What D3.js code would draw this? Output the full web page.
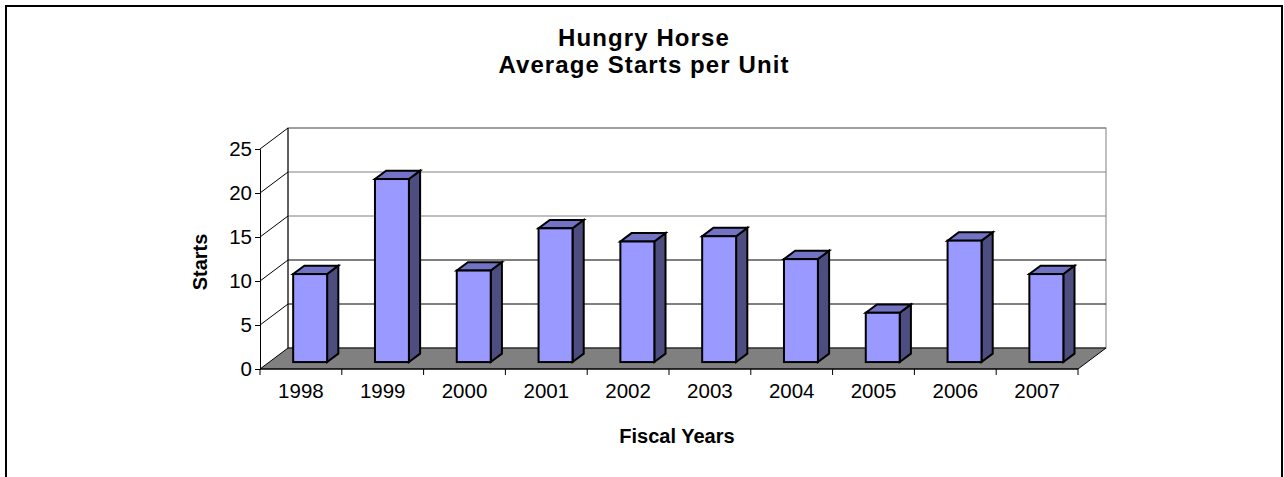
<!DOCTYPE html>
<html>
<head>
<meta charset="utf-8">
<script src="https://cdn.jsdelivr.net/npm/d3@7"></script>
<style>
  html, body { margin: 0; padding: 0; background: #fff; }
  svg { display: block; }
  text { font-family: "Liberation Sans", Arial, sans-serif; fill: #000; }
</style>
</head>
<body>
<svg id="chart" width="1284" height="477"></svg>
<script>
// ---- data ----
const categories = ["1998", "1999", "2000", "2001", "2002", "2003", "2004", "2005", "2006", "2007"];
const starts = [10.0, 20.8, 10.4, 15.2, 13.7, 14.3, 11.7, 5.6, 13.8, 10.0];
const yTicks = [0, 5, 10, 15, 20, 25];
const titleLines = ["Hungry Horse", "Average Starts per Unit"];
const yTitle = "Starts";
const xTitle = "Fiscal Years";

// ---- layout ----
const svg = d3.select("#chart");
const frontLeft = 260, frontRight = 1078;
const frontBottom = 369, frontTop = 149;
const DX = 28, DY = -21;            // depth offset of back wall
const barF = 0.33, barB = 0.73;     // bar front / back depth fractions

const x = d3.scaleBand().domain(categories).range([frontLeft, frontRight]).paddingInner(0).paddingOuter(0);
const y = d3.scaleLinear().domain([0, 25]).range([frontBottom, frontTop]);

// outer frame
svg.append("rect").attr("x", 6).attr("y", 6).attr("width", 1276).attr("height", 490)
  .attr("fill", "none").attr("stroke", "#000").attr("stroke-width", 2);

// back wall
svg.append("rect")
  .attr("x", frontLeft + DX).attr("y", y(25) + DY)
  .attr("width", frontRight - frontLeft).attr("height", y(0) - y(25))
  .attr("fill", "#fff").attr("stroke", "#808080").attr("stroke-width", 1);

// gridlines on back wall + left wall diagonals
const g = svg.append("g");
yTicks.filter(v => v > 0).forEach(v => {
  g.append("line")
    .attr("x1", frontLeft + DX).attr("x2", frontRight + DX)
    .attr("y1", y(v) + DY).attr("y2", y(v) + DY)
    .attr("stroke", v >= 15 ? "#808080" : "#000").attr("stroke-width", 1);
  g.append("line")
    .attr("x1", frontLeft).attr("x2", frontLeft + DX)
    .attr("y1", y(v)).attr("y2", y(v) + DY)
    .attr("stroke", "#000").attr("stroke-width", 1);
});
// left wall back edge
g.append("line").attr("x1", frontLeft + DX).attr("x2", frontLeft + DX)
  .attr("y1", y(25) + DY).attr("y2", y(0) + DY).attr("stroke", "#000");

// floor
svg.append("polygon")
  .attr("points", [
    [frontLeft, y(0)], [frontRight, y(0)],
    [frontRight + DX, y(0) + DY], [frontLeft + DX, y(0) + DY]
  ].map(p => p.join(",")).join(" "))
  .attr("fill", "#808080").attr("stroke", "#000").attr("stroke-width", 1);

// y axis (front)
const yAxis = d3.axisLeft(y).tickValues(yTicks).tickSize(5).tickPadding(3);
const ya = svg.append("g").attr("transform", `translate(${frontLeft},0)`).call(yAxis);
ya.select(".domain").attr("stroke", "#000");
ya.selectAll(".tick line").attr("stroke", "#000");
ya.selectAll(".tick text").style("font-size", "20.5px")
  .style("font-family", "'Liberation Sans', Arial, sans-serif").attr("fill", "#000");

// x axis: line + ticks at category boundaries
const xa = svg.append("g");
xa.append("line").attr("x1", frontLeft).attr("x2", frontRight)
  .attr("y1", y(0)).attr("y2", y(0)).attr("stroke", "#000");
const boundaries = categories.map(c => x(c)).concat([frontRight]);
xa.selectAll("line.tk").data(boundaries).enter().append("line")
  .attr("class", "tk")
  .attr("x1", d => d).attr("x2", d => d)
  .attr("y1", y(0)).attr("y2", y(0) + 6).attr("stroke", "#000");
xa.selectAll("text").data(categories).enter().append("text")
  .attr("x", d => x(d) + x.bandwidth() / 2)
  .attr("y", 398)
  .attr("text-anchor", "middle")
  .style("font-size", "20.5px")
  .text(d => d);

// bars
const barW = x.bandwidth() * 0.415;
const bars = svg.append("g");
categories.forEach((c, i) => {
  const v = starts[i];
  const cx = x(c) + x.bandwidth() / 2;
  const fx0 = cx - barW / 2 + DX * barF, fx1 = cx + barW / 2 + DX * barF;
  const fyB = y(0) + DY * barF, fyT = y(v) + DY * barF;
  const ddx = DX * (barB - barF), ddy = DY * (barB - barF);
  const bg = bars.append("g").attr("stroke", "#000").attr("stroke-width", 2).attr("stroke-linejoin", "miter");
  // side
  bg.append("polygon").attr("points", [
    [fx1, fyB], [fx1 + ddx, fyB + ddy], [fx1 + ddx, fyT + ddy], [fx1, fyT]
  ].map(p => p.join(",")).join(" ")).attr("fill", "#4D4D80");
  // top
  bg.append("polygon").attr("points", [
    [fx0, fyT], [fx1, fyT], [fx1 + ddx, fyT + ddy], [fx0 + ddx, fyT + ddy]
  ].map(p => p.join(",")).join(" ")).attr("fill", "#7373C6");
  // front
  bg.append("rect").attr("x", fx0).attr("y", fyT)
    .attr("width", fx1 - fx0).attr("height", fyB - fyT).attr("fill", "#9999FF");
});

// titles (separate text elements)
titleLines.forEach((line, i) => {
  svg.append("text").attr("x", 644).attr("y", 46 + i * 27)
    .attr("text-anchor", "middle")
    .style("font-size", "24px").style("font-weight", "bold")
    .style("letter-spacing", "1.1px")
    .text(line);
});
svg.append("text").attr("transform", "translate(207,262) rotate(-90)")
  .attr("text-anchor", "middle").style("font-size", "20px").style("font-weight", "bold")
  .text(yTitle);
svg.append("text").attr("x", 677).attr("y", 443).attr("text-anchor", "middle")
  .style("font-size", "20px").style("font-weight", "bold").text(xTitle);
</script>
</body>
</html>
